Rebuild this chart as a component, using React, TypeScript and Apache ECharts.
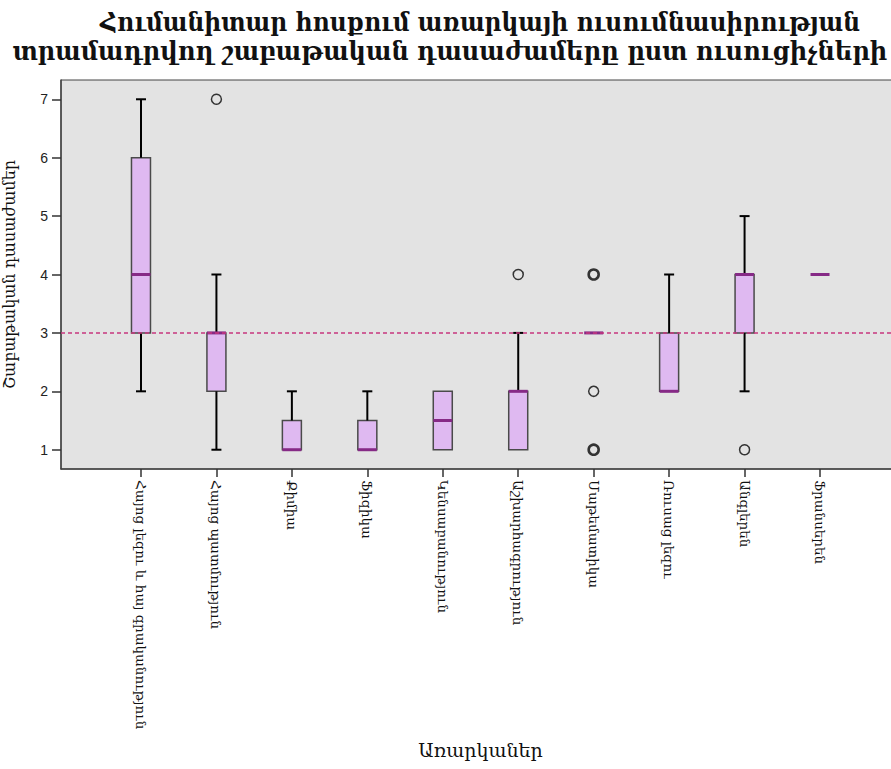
import React, { useEffect, useRef } from "react";
import * as echarts from "echarts";

const titleLine1 = "Հումանիտար հոսքում առարկայի ուսումնասիրության";
const titleLine2 = "տրամադրվող շաբաթական դասաժամերը ըստ ուսուցիչների";
const xTitle = "Առարկաներ";
const yTitle = "Շաբաթական դասաժամեր";

const categories = [
  "Հայոց լեզու և հայ գրականություն",
  "Հայոց պատմություն",
  "Քիմիա",
  "Ֆիզիկա",
  "Կենսաբանություն",
  "Աշխարհագրություն",
  "Մաթեմատիկա",
  "Ռուսաց լեզու",
  "Անգլերեն",
  "Ֆրանսերեն",
];
const whiskerLow = [2, 1, 1, 1, 1, 1, 3, 2, 2, 4];
const q1 = [3, 2, 1, 1, 1, 1, 3, 2, 3, 4];
const median = [4, 3, 1, 1, 1.5, 2, 3, 2, 4, 4];
const q3 = [6, 3, 1.5, 1.5, 2, 2, 3, 3, 4, 4];
const whiskerHigh = [7, 4, 2, 2, 2, 3, 3, 4, 5, 4];
// [category index, value, overlapping count]
const outliers = [
  [1, 7, 1],
  [5, 4, 1],
  [6, 4, 2],
  [6, 2, 1],
  [6, 1, 2],
  [8, 1, 1],
];
const yTicks = [1, 2, 3, 4, 5, 6, 7];
const referenceValue = 3;

export default function App() {
  const ref = useRef<HTMLDivElement>(null);
  useEffect(() => {
    if (!ref.current) return;
    const chart = echarts.init(ref.current, undefined, { renderer: "svg" });
    const boxData = categories.map((_, i) => [i, whiskerLow[i], q1[i], median[i], q3[i], whiskerHigh[i]]);
    const catIdx = categories.map((_, i) => i);
    const serif = "'DejaVu Serif', serif";
    const titleFont = "'DejaVu Serif Condensed', 'DejaVu Serif', serif";
    chart.setOption({
      animation: false,
      backgroundColor: "#ffffff",
      title: [
        {
          text: titleLine1,
          left: 475,
          top: 4,
          textAlign: "center",
          textStyle: { fontFamily: titleFont, fontWeight: "bold", fontSize: 26, color: "#111" },
        },
        {
          text: titleLine2,
          left: 445,
          top: 32,
          textAlign: "center",
          textStyle: { fontFamily: titleFont, fontWeight: "bold", fontSize: 26.8, color: "#111" },
        },
      ],
      grid: {
        left: 61,
        top: 80,
        right: -9,
        height: 389,
        outerBoundsMode: "none",
        containLabel: false,
        show: true,
        backgroundColor: "#e3e3e3",
        borderColor: "#444",
        borderWidth: 1,
      },
      xAxis: {
        type: "value",
        min: -1.06,
        max: 10.06,
        name: xTitle,
        nameLocation: "middle",
        nameGap: 271,
        nameTextStyle: { fontFamily: serif, fontSize: 19, color: "#111" },
        axisLine: { show: true, onZero: false, lineStyle: { color: "#444", width: 1.5 } },
        axisTick: { show: true, length: 8, customValues: catIdx, lineStyle: { color: "#333", width: 1.5 } },
        axisLabel: {
          customValues: catIdx,
          rotate: -90,
          margin: 11,
          fontFamily: serif,
          fontSize: 13.5,
          color: "#111",
          formatter: (v: number) => categories[Math.round(v)] ?? "",
        },
        splitLine: { show: false },
      },
      yAxis: {
        type: "value",
        min: 0.67,
        max: 7.33,
        name: yTitle,
        nameLocation: "middle",
        nameGap: 44,
        nameTextStyle: { fontFamily: serif, fontSize: 16, color: "#111" },
        axisLine: { show: true, onZero: false, lineStyle: { color: "#444", width: 1.5 } },
        axisTick: { show: true, length: 9, customValues: yTicks, lineStyle: { color: "#333", width: 1.5 } },
        axisLabel: { customValues: yTicks, margin: 13, fontFamily: "'Liberation Sans', Arial, sans-serif", fontSize: 14, color: "#222" },
        splitLine: { show: false },
      },
      series: [
        {
          type: "custom",
          data: boxData,
          encode: { x: 0, y: [1, 2, 3, 4, 5] },
          z: 2,
          renderItem: (params: any, api: any) => {
            const i = api.value(0);
            const lo = api.value(1);
            const a = api.value(2);
            const m = api.value(3);
            const b = api.value(4);
            const hi = api.value(5);
            const pt = (v: number) => api.coord([i, v]);
            const halfW = 9.5;
            const capHalf = 5;
            const children: any[] = [];
            const cx = pt(m)[0];
            if (b > a) {
              const yTop = pt(b)[1];
              const yBot = pt(a)[1];
              children.push({
                type: "rect",
                shape: { x: cx - halfW, y: yTop, width: halfW * 2, height: yBot - yTop },
                style: { fill: "#dfb9f1", stroke: "#4a4a4a", lineWidth: 1.5 },
              });
            }
            if (hi > b) {
              children.push({ type: "line", shape: { x1: cx, y1: pt(b)[1], x2: cx, y2: pt(hi)[1] }, style: { stroke: "#000", lineWidth: 2 } });
              children.push({ type: "line", shape: { x1: cx - capHalf, y1: pt(hi)[1], x2: cx + capHalf, y2: pt(hi)[1] }, style: { stroke: "#000", lineWidth: 2 } });
            }
            if (lo < a) {
              children.push({ type: "line", shape: { x1: cx, y1: pt(a)[1], x2: cx, y2: pt(lo)[1] }, style: { stroke: "#000", lineWidth: 2 } });
              children.push({ type: "line", shape: { x1: cx - capHalf, y1: pt(lo)[1], x2: cx + capHalf, y2: pt(lo)[1] }, style: { stroke: "#000", lineWidth: 2 } });
            }
            const ym = pt(m)[1];
            children.push({ type: "line", shape: { x1: cx - halfW, y1: ym, x2: cx + halfW, y2: ym }, style: { stroke: "#862a86", lineWidth: 3 } });
            return { type: "group", children };
          },
        },
        {
          type: "line",
          data: [],
          z: 4,
          markLine: {
            silent: true,
            symbol: "none",
            label: { show: false },
            lineStyle: { color: "#c8377f", type: [4, 3], width: 1.5, opacity: 1 },
            emphasis: { disabled: true },
            data: [{ yAxis: referenceValue }],
          },
        },
        {
          type: "scatter",
          z: 3,
          data: outliers.map((o) => ({
            value: [o[0], o[1]],
            itemStyle: { borderWidth: o[2] > 1 ? 2.6 : 1.5 },
          })),
          symbol: "circle",
          symbolSize: 10,
          itemStyle: { color: "rgba(0,0,0,0)", borderColor: "#333", borderWidth: 1.5, opacity: 1 },
        },
      ],
    });
    return () => chart.dispose();
  }, []);
  return <div ref={ref} style={{ position: "fixed", left: 0, top: 0, width: 891, height: 769 }} />;
}
